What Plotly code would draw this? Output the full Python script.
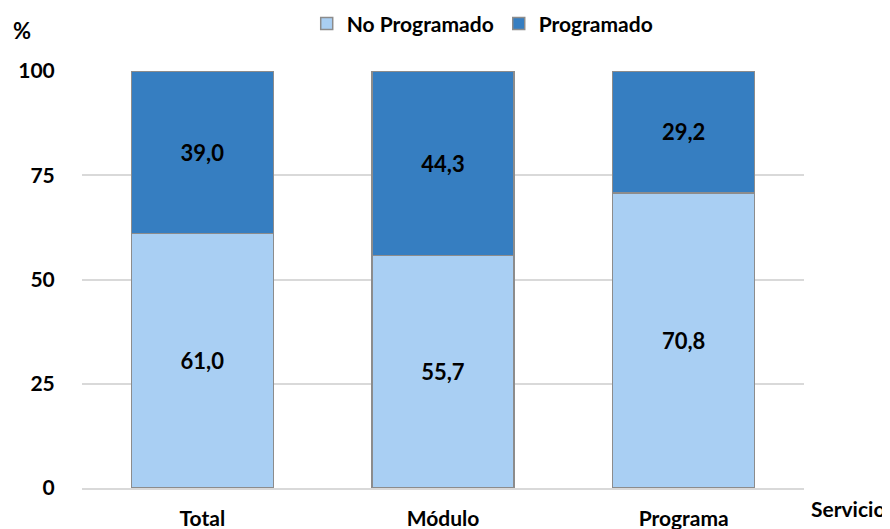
import plotly.graph_objects as go

categories = ["Total", "Módulo", "Programa"]
no_programado = [61.0, 55.7, 70.8]
programado = [39.0, 44.3, 29.2]
y_ticks = [0, 25, 50, 75, 100]

def fmt(v):
    return f"{v:.1f}".replace(".", ",")

FONT = "Lato, Open Sans, sans-serif"

fig = go.Figure()
fig.add_trace(go.Bar(
    x=categories, y=no_programado, name="No Programado",
    marker=dict(color="#A9CFF3", line=dict(color="#8C8C8C", width=1.5)),
    text=[fmt(v) for v in no_programado], textposition="inside",
    insidetextanchor="middle",
    textfont=dict(family=FONT, size=22, color="black", weight="bold"),
))
fig.add_trace(go.Bar(
    x=categories, y=programado, name="Programado",
    marker=dict(color="#367EC1", line=dict(color="#8C8C8C", width=1.5)),
    text=[fmt(v) for v in programado], textposition="inside",
    insidetextanchor="middle",
    textfont=dict(family=FONT, size=22, color="black", weight="bold"),
))

fig.update_layout(
    barmode="stack",
    bargap=0.41,
    width=890, height=529,
    margin=dict(l=74, r=94, t=63, b=49, autoexpand=False),
    plot_bgcolor="white", paper_bgcolor="white",
    font=dict(family=FONT, size=21, color="black", weight="bold"),
    showlegend=True,
    legend=dict(orientation="h", x=0.555, xanchor="center", y=1.113, yanchor="middle",
                font=dict(family=FONT, size=21, color="black", weight="bold"),
                traceorder="normal", itemwidth=30, tracegroupgap=0),
    uniformtext=dict(mode="show", minsize=10),
)
fig.update_yaxes(
    range=[0, 100], tickvals=y_ticks, ticktext=[str(t) for t in y_ticks],
    showgrid=True, gridcolor="#D9D9D9", gridwidth=1.5,
    zeroline=False, showline=False, ticks="outside", ticklen=22, tickcolor="rgba(0,0,0,0)",
    tickfont=dict(family=FONT, size=21, color="black", weight="bold"),
)
fig.update_xaxes(
    showline=True, linecolor="#D9D9D9", linewidth=1.5,
    ticks="outside", ticklen=11, tickcolor="rgba(0,0,0,0)",
    tickfont=dict(family=FONT, size=21, color="black", weight="bold"),
)
fig.add_annotation(text="%", xref="paper", yref="paper", x=-0.083, y=1.098,
                   xanchor="center", yanchor="middle", showarrow=False,
                   font=dict(family=FONT, size=22, color="black", weight="bold"))
fig.add_annotation(text="Servicio", xref="paper", yref="paper", x=1.061, y=-0.05,
                   xanchor="center", yanchor="middle", showarrow=False,
                   font=dict(family=FONT, size=21, color="black", weight="bold"))

fig.write_html("out.html")
